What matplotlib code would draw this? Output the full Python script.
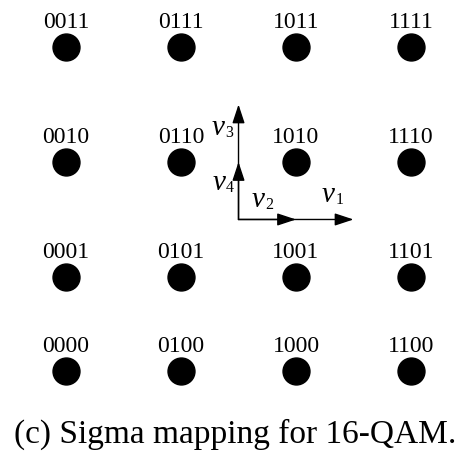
import matplotlib.pyplot as plt

plt.rcParams['font.family'] = 'Liberation Serif'

# Constelação 16-QAM (mapeamento Sigma)
i_vals = [-3, -1, 1, 3]
q_vals = [3, 1, -1, -2.64]
rotulos = [
    ['0011', '0111', '1011', '1111'],
    ['0010', '0110', '1010', '1110'],
    ['0001', '0101', '1001', '1101'],
    ['0000', '0100', '1000', '1100'],
]

# Vetores base v1..v4
vetores = [(2, 0), (1, 0), (0, 2), (0, 1)]
indices_vet = ['1', '2', '3', '4']
# posição dos nomes dos vetores
pos_nomes = [(1.452, 0.304), (0.235, 0.217), (-0.47, 1.474), (-0.45, 0.513)]

fig = plt.figure(figsize=(4.63, 4.55), dpi=100)
ax = fig.add_axes([0, 0, 1, 1])
ax.set_xlim(-4.148, 3.904)
ax.set_ylim(-4.096, 3.817)
ax.axis('off')

for r, q in enumerate(q_vals):
    for c, i in enumerate(i_vals):
        ax.plot(i, q, 'o', color='black', markersize=19.4)
        ax.annotate(rotulos[r][c], (i, q), xytext=(0, 13.7), textcoords='offset points',
                    ha='center', va='baseline', fontsize=17)

# setas dos vetores
for (vx, vy) in vetores:
    ax.annotate('', xy=(vx, vy), xytext=(0, 0),
                arrowprops=dict(arrowstyle='-|>,head_length=1.15,head_width=0.38',
                                mutation_scale=10, color='black', lw=1.0,
                                shrinkA=0, shrinkB=0))

# nomes: v em itálico + índice pequeno
for (px, py), idx in zip(pos_nomes, indices_vet):
    ax.text(px, py, 'v', fontsize=21, fontstyle='italic', ha='left', va='baseline')
    ax.annotate(idx, (px, py), xytext=(9.6, -1.5), textcoords='offset points',
                fontsize=11.5, ha='left', va='baseline')

fig.text(0.508, 0.026, '(c) Sigma mapping for 16-QAM.', ha='center', va='baseline', fontsize=24)

fig.savefig('out.png', dpi=100)
